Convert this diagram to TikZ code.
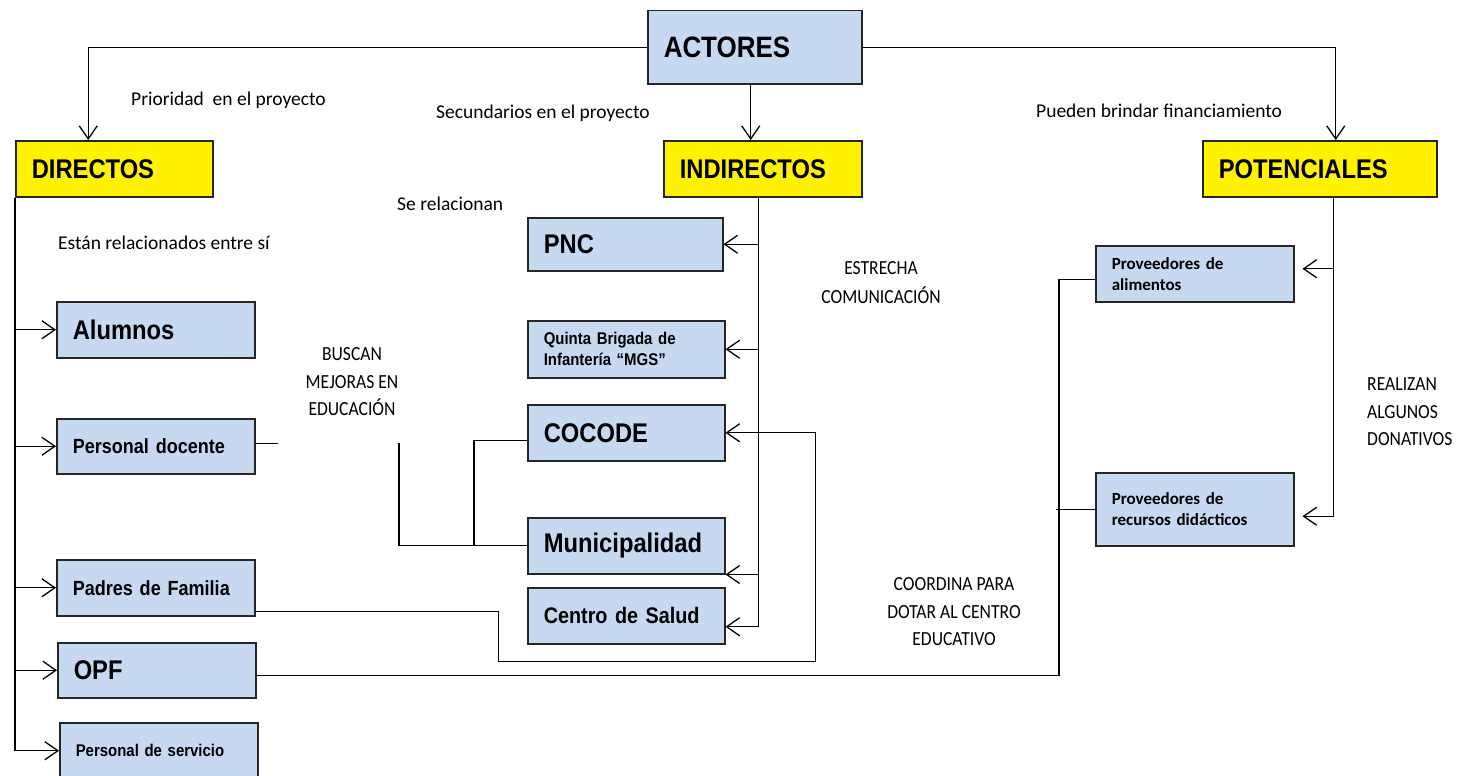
\documentclass[tikz,border=0pt]{standalone}
\usepackage{fontspec}
\setmainfont[FakeStretch=0.88]{Liberation Sans}
\newfontfamily\calibfont{Carlito}
\newfontfamily\capsfont[FakeStretch=0.88]{Carlito}
\usetikzlibrary{arrows.meta}
\definecolor{boxblue}{HTML}{C6D9F1}
\definecolor{boxline}{HTML}{262626}

\begin{document}
\begin{tikzpicture}[x=1pt,y=-1pt,
  box/.style={draw=boxline,fill=boxblue,line width=1.5pt,anchor=north west,
    inner xsep=16pt,inner ysep=0pt,text width=166pt,minimum height=56pt,align=left,
    font=\bfseries\fontsize{27}{31}\selectfont},
  head/.style={box,fill=yellow},
  smalltxt/.style={font=\bfseries\fontsize{17}{21}\selectfont},
  midtxt/.style={font=\bfseries\fontsize{20.5}{24}\selectfont},
  prov/.style={font=\calibfont\bfseries\fontsize{17}{21}\selectfont},
  lbl/.style={anchor=west,inner sep=0pt,font=\calibfont\fontsize{19.5}{23}\selectfont},
  caps/.style={inner sep=0pt,align=center,font=\capsfont\fontsize{20}{27.5}\selectfont},
  conn/.style={draw=black,line width=1.3pt},
  arr/.style={-{Straight Barb[length=13pt,width=18pt]}}]
\useasboundingbox (0,0) rectangle (1459,776);
\fill[white] (0,0) rectangle (1459,776);
\clip (0,0) rectangle (1459,776);

% cabeceras
\node[box,text width=182pt,minimum height=73pt,font=\bfseries\fontsize{29.5}{33}\selectfont] (act) at (647,10) {ACTORES};
\node[head,text width=165pt] (dir) at (15,140) {DIRECTOS};
\node[head] (ind) at (663,140) {INDIRECTOS};
\node[head,text width=202pt] (pot) at (1202,140) {POTENCIALES};

% directos
\node[box] (alu) at (56,301) {Alumnos};
\node[box,midtxt,minimum height=55pt] (doc) at (56,418) {Personal docente};
\node[box,midtxt] (pad) at (56,559) {Padres de Familia};
\node[box,minimum height=55pt] (opf) at (57,642) {OPF};
\node[box,smalltxt] (ps) at (59,722) {Personal de servicio};

% indirectos
\node[box,text width=163pt,minimum height=53pt] (pnc) at (527,217) {PNC};
\node[box,smalltxt,text width=165pt,minimum height=57pt] (qb) at (527,320) {Quinta Brigada de\\Infantería “MGS”};
\node[box,text width=165pt] (coc) at (527,404) {COCODE};
\node[box,text width=165pt] (mun) at (527,517) {Municipalidad};
\node[box,text width=165pt,font=\bfseries\fontsize{22.5}{26}\selectfont] (cs) at (527,587) {Centro de Salud};

% potenciales
\node[box,prov] (pa) at (1095,245) {Proveedores de\\alimentos};
\node[box,prov,minimum height=73pt] (pr) at (1095,472) {Proveedores de\\recursos didácticos};

% textos
\node[lbl] (prio) at (131,100) {Prioridad\ \ en el proyecto};
\node[lbl] (sec) at (436,113) {Secundarios en el proyecto};
\node[lbl] (fin) at (1036,111) {Pueden brindar financiamiento};
\node[lbl] (rel) at (397,204) {Se relacionan};
\node[lbl] (ent) at (58,243) {Están relacionados entre sí};
\node[caps] (busc) at (352,382) {BUSCAN\\MEJORAS EN\\EDUCACIÓN};
\node[caps,font=\capsfont\fontsize{20}{29}\selectfont] (estr) at (881,283) {ESTRECHA\\COMUNICACIÓN};
\node[caps] (coord) at (954,612) {COORDINA PARA\\DOTAR AL CENTRO\\EDUCATIVO};
\node[caps,align=left,anchor=west] (don) at (1367,412) {REALIZAN\\ALGUNOS\\DONATIVOS};

% ramas de actores
\draw[conn,arr] (act.west) -| ([xshift=-26pt]dir.north);
\draw[conn,arr] (act.east) -| ([xshift=16pt]pot.north);
\draw[conn,arr] ([xshift=-4pt]act.south) -- ([xshift=-4pt]act.south |- ind.north);

% directos
\draw[conn] (dir.south west) -- (dir.south west |- ps.west);
\foreach \n in {alu,doc,pad,opf,ps}
  \draw[conn,arr] (dir.south west |- \n.west) -- (\n.west);
\draw[conn] ([yshift=3pt]doc.east) -- ++(22,0);

% indirectos
\coordinate (itr) at ([xshift=-4pt]ind.south);
\draw[conn,arr] (itr) |- ([yshift=-11pt]cs.east);
\foreach \n in {pnc,qb}
  \draw[conn,arr] (itr |- \n.east) -- (\n.east);
\draw[conn,arr] (itr |- mun.south east) -- (mun.south east);
\draw[conn] (mun.west) -- ++(-128,0) -- ++(0,-103);
\draw[conn] ([xshift=-53pt]mun.west) |- ([yshift=-8pt]coc.west);
\draw[conn,arr] ([yshift=5pt]pad.south east) -- ++(243,0) -- ++(0,50) -| ([xshift=90pt]coc.east) -- (coc.east);

% potenciales
\coordinate (ptr) at ([xshift=14pt]pot.south);
\coordinate (pain) at ([xshift=8pt,yshift=5pt]pa.east);
\draw[conn,arr] (ptr) |- ([xshift=8pt,yshift=-7pt]pr.east);
\draw[conn,arr] (ptr |- pain) -- (pain);
\draw[conn] ([yshift=-5pt]opf.east) -| ([xshift=-36pt,yshift=-6pt]pa.west) -- ([yshift=-6pt]pa.west);
\draw[conn] ([xshift=-39pt]pr.west) -- (pr.west);
\end{tikzpicture}
\end{document}
